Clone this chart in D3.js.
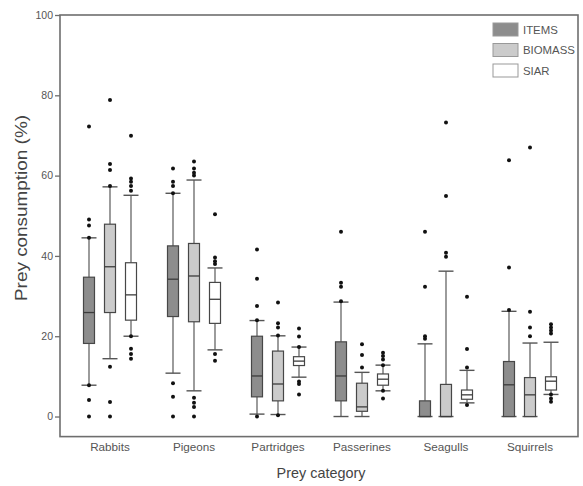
<!DOCTYPE html>
<html>
<head>
<meta charset="utf-8">
<script src="https://cdn.jsdelivr.net/npm/d3@7/dist/d3.min.js"></script>
<style>
  html, body { margin: 0; padding: 0; background: #fff; }
  svg { display: block; font-family: "Liberation Sans", Arial, sans-serif; }
</style>
</head>
<body>
<svg id="chart" width="583" height="486"></svg>
<script>
// Prey categories and the three estimate types
const categories = ["Rabbits", "Pigeons", "Partridges", "Passerines", "Seagulls", "Squirrels"];
const seriesNames = ["ITEMS", "BIOMASS", "SIAR"];
const yTicks = [0, 20, 40, 60, 80, 100];

// Box statistics per category: [lower whisker, Q1, median, Q3, upper whisker]
const itemsStats = [
  [7.8, 18.2, 25.9, 34.7, 44.5],
  [10.8, 24.9, 34.2, 42.5, 55.6],
  [0.6, 4.9, 10.1, 20.0, 23.9],
  [0, 3.9, 10.1, 18.6, 28.5],
  [0, 0, 0, 3.9, 18.1],
  [0, 0, 7.9, 13.7, 26.2]
];
const biomassStats = [
  [14.4, 25.9, 37.3, 47.9, 57.2],
  [6.4, 23.6, 35.0, 43.1, 58.9],
  [0.5, 3.9, 8.1, 16.3, 20.1],
  [0, 1.3, 2.4, 8.3, 11.0],
  [0, 0, 0, 8.0, 36.2],
  [0, 0, 5.4, 9.7, 18.3]
];
const siarStats = [
  [20.0, 24.0, 30.3, 38.3, 55.1],
  [16.6, 23.2, 29.2, 33.4, 37.0],
  [9.8, 12.7, 13.8, 14.9, 17.3],
  [6.4, 7.8, 9.3, 10.6, 12.8],
  [3.4, 4.3, 5.4, 6.6, 11.5],
  [5.5, 6.6, 8.8, 9.9, 18.5]
];

// Outlying observations per category
const itemsOutliers = [
  [72.2, 49.1, 47.6, 44.5, 7.8, 4.1, 0],
  [61.8, 58.5, 57.4, 55.6, 8.3, 4.9, 0],
  [41.6, 34.3, 27.5, 24.0, 0],
  [46.0, 33.3, 32.3, 28.7],
  [46.0, 32.3, 20.0, 19.4],
  [63.8, 37.1, 26.5]
];
const biomassOutliers = [
  [78.8, 62.9, 61.4, 57.4, 12.4, 3.6, 0],
  [63.5, 61.8, 60.7, 60.0, 4.7, 3.4, 2.4, 0],
  [28.4, 23.2, 22.2, 20.2, 0.3],
  [18.0, 15.3, 12.2],
  [73.2, 54.9, 40.8, 39.8],
  [67.0, 26.1, 22.2, 20.0]
];
const siarOutliers = [
  [69.9, 59.3, 58.5, 57.4, 56.2, 20.0, 16.9, 15.6, 14.4],
  [50.4, 39.6, 38.7, 38.0, 15.6, 13.9],
  [21.9, 19.9, 17.3, 8.7, 8.1, 5.5],
  [15.9, 15.1, 14.2, 12.8, 6.4, 4.5],
  [29.8, 16.8, 12.2, 2.9],
  [23.0, 22.2, 21.4, 20.7, 5.5, 4.5, 3.7]
];

const seriesFill = ["#8d8d8d", "#cbcbcb", "#ffffff"];

const statsBySeries = [itemsStats, biomassStats, siarStats];
const outliersBySeries = [itemsOutliers, biomassOutliers, siarOutliers];

const svg = d3.select("#chart");
const frame = { left: 60, right: 578, top: 15, bottom: 436.6 };

const y = d3.scaleLinear().domain([-5, 100]).range([frame.bottom, frame.top]);
const x = d3.scalePoint().domain(categories).range([110, 530]);
const offset = d3.scalePoint().domain(seriesNames).range([-21, 21]);

const boxW = 11, capW = 15;
const axisColor = "#6e6e6e";
const textColor = "#555";

// plot frame
svg.append("rect")
  .attr("x", frame.left).attr("y", frame.top)
  .attr("width", frame.right - frame.left).attr("height", frame.bottom - frame.top)
  .attr("fill", "none").attr("stroke", axisColor).attr("stroke-width", 1.6);

// y axis
const yAxis = svg.append("g")
  .attr("transform", `translate(${frame.left},0)`)
  .call(d3.axisLeft(y).tickValues(yTicks).tickSize(5).tickPadding(2).tickSizeOuter(0));
yAxis.select(".domain").remove();
yAxis.selectAll(".tick line").attr("stroke", axisColor).attr("stroke-width", 1.3);
yAxis.selectAll(".tick text")
  .attr("fill", textColor).attr("font-size", 10.5)
  .attr("font-family", "Liberation Sans, Arial, sans-serif");

// category labels
svg.append("g").selectAll("text")
  .data(categories).join("text")
  .attr("x", d => x(d)).attr("y", 451)
  .attr("text-anchor", "middle")
  .attr("font-size", 11.7).attr("fill", textColor)
  .text(d => d);

// axis titles
svg.append("text")
  .attr("x", 321).attr("y", 478)
  .attr("text-anchor", "middle")
  .attr("font-size", 14.4).attr("fill", "#444")
  .text("Prey category");

svg.append("text")
  .attr("transform", "translate(27,208) rotate(-90)")
  .attr("text-anchor", "middle")
  .attr("font-size", 16)
  .attr("textLength", 186).attr("lengthAdjust", "spacingAndGlyphs")
  .attr("fill", "#444")
  .text("Prey consumption (%)");

// box plots
const plot = svg.append("g");
seriesNames.forEach((s, si) => {
  const g = plot.append("g").attr("class", "series-" + s);
  const rows = categories.map((c, ci) => ({ c, st: statsBySeries[si][ci], out: outliersBySeries[si][ci] }));

  const grp = g.selectAll("g.box").data(rows).join("g")
    .attr("class", "box")
    .attr("transform", d => `translate(${x(d.c) + offset(s)},0)`);

  // whisker stems
  grp.append("line")
    .attr("x1", 0).attr("x2", 0)
    .attr("y1", d => y(d.st[4])).attr("y2", d => y(d.st[3]))
    .attr("stroke", "#666").attr("stroke-width", 1.3);
  grp.append("line")
    .attr("x1", 0).attr("x2", 0)
    .attr("y1", d => y(d.st[1])).attr("y2", d => y(d.st[0]))
    .attr("stroke", "#666").attr("stroke-width", 1.3);
  // whisker caps
  grp.append("line")
    .attr("x1", -capW / 2).attr("x2", capW / 2)
    .attr("y1", d => y(d.st[4])).attr("y2", d => y(d.st[4]))
    .attr("stroke", "#555").attr("stroke-width", 1.4);
  grp.append("line")
    .attr("x1", -capW / 2).attr("x2", capW / 2)
    .attr("y1", d => y(d.st[0])).attr("y2", d => y(d.st[0]))
    .attr("stroke", "#555").attr("stroke-width", 1.4);
  // box
  grp.append("rect")
    .attr("x", -boxW / 2).attr("width", boxW)
    .attr("y", d => y(d.st[3]))
    .attr("height", d => Math.max(0, y(d.st[1]) - y(d.st[3])))
    .attr("fill", seriesFill[si]).attr("stroke", "#474747").attr("stroke-width", 1.2);
  // median
  grp.append("line")
    .attr("x1", -boxW / 2).attr("x2", boxW / 2)
    .attr("y1", d => y(d.st[2])).attr("y2", d => y(d.st[2]))
    .attr("stroke", "#3c3c3c").attr("stroke-width", 1.3);
  // outliers
  grp.selectAll("circle").data(d => d.out).join("circle")
    .attr("cx", 0).attr("cy", v => y(v)).attr("r", 2)
    .attr("fill", "#111");
});

// legend
const legend = svg.append("g");
seriesNames.forEach((s, i) => {
  const ly = 23 + i * 20.5;
  legend.append("rect")
    .attr("x", 493).attr("y", ly).attr("width", 25).attr("height", 13)
    .attr("fill", seriesFill[i]).attr("stroke", "#999").attr("stroke-width", 1);
  legend.append("text")
    .attr("x", 523).attr("y", ly + 10.5)
    .attr("font-size", 11.4).attr("fill", textColor)
    .text(s);
});
</script>
</body>
</html>
